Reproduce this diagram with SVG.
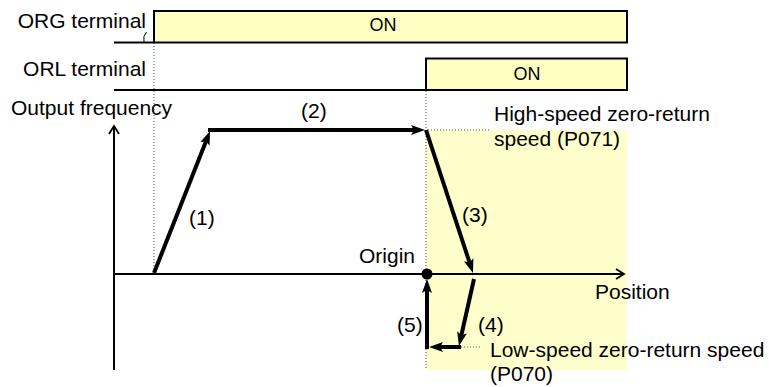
<svg xmlns="http://www.w3.org/2000/svg" width="769" height="387" viewBox="0 0 769 387">
<style>
text{font-family:"Liberation Sans",Arial,sans-serif;font-size:21px;fill:#000}
.on{font-size:18px;text-anchor:middle}
.box{fill:#FFFFC4;stroke:#000;stroke-width:2}
.sig{stroke:#000;stroke-width:2;fill:none}
.dot{stroke:#555;stroke-width:1;stroke-dasharray:1,2;fill:none}
.axis{stroke:#000;stroke-width:2;fill:none}
.thick{stroke:#000;stroke-width:4;fill:none;marker-end:url(#ah)}
</style>
<defs>
<marker id="ah" markerUnits="userSpaceOnUse" markerWidth="16" markerHeight="12" viewBox="0 0 16 12" refX="6" refY="6" orient="auto">
<path d="M0,1 L14,6 L0,11 L3,6 z" fill="#000"/>
</marker>
<marker id="oa" markerUnits="userSpaceOnUse" markerWidth="14" markerHeight="14" viewBox="0 0 14 14" refX="11" refY="7" orient="auto">
<path d="M3,2 L11,7 L3,12" fill="none" stroke="#000" stroke-width="1.8"/>
</marker>
</defs>
<rect x="426" y="130" width="201" height="240" fill="#FFFFCC"/>
<g id="org-signal">
<text x="146" y="28" text-anchor="end">ORG terminal</text>
<path class="sig" d="M114,42.5 H154"/>
<path d="M146.5,32 Q142.5,36.5 144,42" fill="none" stroke="#000" stroke-width="1"/>
<rect class="box" x="154" y="11" width="473" height="31.5"/>
<text class="on" x="383" y="31">ON</text>
</g>
<g id="orl-signal">
<text x="146" y="76" text-anchor="end">ORL terminal</text>
<path class="sig" d="M114,90 H426"/>
<rect class="box" x="426" y="58.5" width="201" height="31.5"/>
<text class="on" x="527" y="80">ON</text>
</g>
<g id="axes">
<text x="11" y="115">Output frequency</text>
<path class="axis" d="M114,370 V126" marker-end="url(#oa)"/>
<path class="axis" d="M114,274 H624" marker-end="url(#oa)"/>
<text x="595" y="299">Position</text>
</g>
<g id="guides">
<path class="dot" d="M154,43 V273"/>
<path class="dot" d="M426,91 V370"/>
<path class="dot" d="M428,130 H489"/>
<path class="dot" d="M461,347 H481"/>
</g>
<g id="connectors">
<path class="thick" d="M154,273 L207.1,138.4"/>
<path class="thick" d="M208,130 H417"/>
<path class="thick" d="M426,130 L470.5,265.4"/>
<path class="thick" d="M474,279 L460.7,338.2"/>
<path class="thick" d="M461,347 H437"/>
<path class="thick" d="M427,349 V287"/>
</g>
<g id="origin">
<circle cx="427" cy="274" r="5.5" fill="#000"/>
<text x="359" y="263">Origin</text>
</g>
<g id="labels">
<text x="189" y="225">(1)</text>
<text x="301" y="118">(2)</text>
<text x="462" y="222">(3)</text>
<text x="478" y="332">(4)</text>
<text x="397" y="332">(5)</text>
<text x="494" y="121">High-speed zero-return</text>
<text x="494" y="146">speed (P071)</text>
<text x="490" y="357">Low-speed zero-return speed</text>
<text x="490" y="381">(P070)</text>
</g>
</svg>
